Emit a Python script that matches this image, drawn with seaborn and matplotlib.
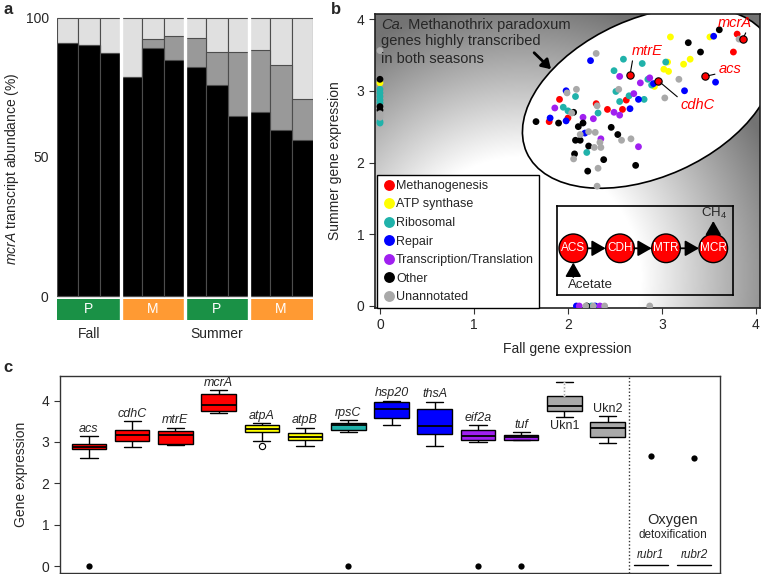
import numpy as np
import pandas as pd
import matplotlib
matplotlib.use("Agg")
import matplotlib.pyplot as plt
import matplotlib.patches as mpatches
from matplotlib.transforms import Affine2D
import seaborn as sns

# ---------------- Panel a data ----------------
bar_samples = ["F-P1", "F-P2", "F-P3", "F-M1", "F-M2", "F-M3",
               "S-P1", "S-P2", "S-P3", "S-M1", "S-M2", "S-M3"]
site_labels = ["P", "M", "P", "M"]
season_labels = ["Fall", "Summer"]
mcra_primary = [91.0, 90.0, 87.3, 78.7, 89.0, 84.8, 82.2, 75.6, 64.8, 66.0, 59.5, 56.2]
mcra_secondary = [0.0, 0.0, 0.0, 0.0, 3.4, 8.5, 10.5, 12.0, 22.8, 22.4, 23.3, 14.4]
mcra_total = [100, 100, 100, 100, 100, 100, 100, 100, 100, 100, 100, 100]

# ---------------- Panel b data ----------------
meth_fall = [3.80, 3.76, 1.91, 2.30, 2.42, 2.58, 2.62, 2.00, 1.80]
meth_summer = [3.79, 3.54, 2.88, 2.82, 2.74, 2.74, 2.87, 2.62, 2.57]
atp_fall = [3.51, 3.09, 3.30, 3.23, 3.06, 3.02, 3.07, 2.92, 0.0]
atp_summer = [3.75, 3.75, 3.44, 3.37, 3.40, 3.30, 3.27, 3.06, 3.11]
ribo_fall = [2.59, 2.79, 3.04, 2.49, 2.85, 2.89, 2.51, 2.08, 2.65, 2.81, 2.55, 1.95,
             2.00, 2.32, 2.20, 0.0, 0.0, 0.0, 0.0, 0.0, 0.0, 0.0, 2.25]
ribo_summer = [3.44, 3.38, 3.40, 3.28, 3.16, 3.08, 2.99, 2.92, 2.93, 2.88, 2.85, 2.77,
               2.72, 2.69, 2.14, 3.02, 2.97, 2.92, 2.87, 2.83, 2.57, 2.55, 0.0]
repair_fall = [3.55, 2.24, 3.57, 2.91, 3.24, 1.98, 2.75, 2.66, 1.98, 1.81, 2.18, 2.09, 2.29]
repair_summer = [3.76, 3.42, 3.12, 3.10, 3.00, 3.00, 2.88, 2.75, 2.58, 2.62, 2.41, 0.0, 0.0]
trans_fall = [2.55, 2.87, 2.77, 2.70, 1.86, 2.49, 2.55, 2.27, 2.16, 2.35, 2.75, 2.12, 2.34]
trans_summer = [3.20, 3.18, 3.11, 2.96, 2.76, 2.70, 2.66, 2.61, 2.63, 2.33, 2.22, 0.0, 0.0]
other_fall = [3.61, 3.28, 3.41, 2.06, 1.66, 1.90, 2.16, 2.11, 2.46, 2.53, 2.08, 2.13,
              2.22, 2.07, 2.38, 2.72, 2.21, 0.0, 0.0, 0.0, 2.20]
other_summer = [3.85, 3.67, 3.54, 2.70, 2.57, 2.55, 2.55, 2.50, 2.49, 2.39, 2.31, 2.31,
                2.23, 2.12, 2.04, 1.96, 1.88, 3.16, 2.78, 2.73, 0.0]
unann_fall = [3.82, 2.30, 3.18, 3.03, 2.54, 2.09, 1.99, 2.31, 2.04, 2.22, 2.29, 2.13,
              2.34, 2.67, 2.57, 2.28, 2.35, 2.06, 2.32, 2.31, 0.0, 0.0, 0.0,
              2.19, 2.27, 2.39, 2.87]
unann_summer = [3.72, 3.52, 3.16, 2.90, 3.02, 3.02, 2.97, 2.79, 2.69, 2.43, 2.42, 2.39,
                2.28, 2.33, 2.31, 2.21, 2.21, 2.05, 1.92, 1.67, 3.56, 2.68, 2.63,
                0.0, 0.0, 0.0, 0.0]
highlight_genes = ["mcrA", "acs", "mtrE", "cdhC"]
highlight_fall = [3.86, 3.46, 2.66, 2.96]
highlight_summer = [3.72, 3.20, 3.22, 3.14]

classes = ["Methanogenesis", "ATP synthase", "Ribosomal", "Repair",
           "Transcription/Translation", "Other", "Unannotated"]
class_colors = {"Methanogenesis": "#FF0000", "ATP synthase": "#FFFF00",
                "Ribosomal": "#20B2AA", "Repair": "#0000FF",
                "Transcription/Translation": "#A020F0", "Other": "#000000",
                "Unannotated": "#A9A9A9"}

# ellipse outline (data units)
outline_x = [2.837, 2.553, 2.340, 1.827, 1.631, 1.532, 1.524, 1.578, 1.809, 2.128,
             2.305, 2.695, 3.050, 3.404, 3.759, 3.968, 4.04]
outline_y = [4.070, 3.940, 3.777, 3.335, 2.871, 2.407, 2.268, 2.035, 1.802, 1.663,
             1.631, 1.686, 1.849, 2.035, 2.314, 2.638, 2.825]

# ---------------- Panel c data ----------------
box_genes = ["acs", "cdhC", "mtrE", "mcrA", "atpA", "atpB", "rpsC", "hsp20",
             "thsA", "eif2a", "tuf", "Ukn1", "Ukn2"]
extra_genes = ["rubr1", "rubr2"]
box_min = [2.62, 2.87, 2.93, 3.69, 3.02, 2.90, 3.24, 3.41, 2.90, 3.01, 3.04, 3.61, 2.98]
box_q1 = [2.82, 3.03, 2.96, 3.74, 3.25, 3.04, 3.28, 3.57, 3.20, 3.04, 3.06, 3.74, 3.12]
box_median = [2.88, 3.16, 3.18, 3.89, 3.32, 3.12, 3.40, 3.79, 3.39, 3.15, 3.12, 3.87, 3.33]
box_q3 = [2.95, 3.28, 3.26, 4.15, 3.42, 3.22, 3.45, 3.96, 3.79, 3.28, 3.16, 4.11, 3.49]
box_max = [3.14, 3.50, 3.34, 4.25, 3.45, 3.34, 3.52, 4.00, 3.97, 3.40, 3.24, 4.45, 3.62]
gene_colors = {"acs": "#FF0000", "cdhC": "#FF0000", "mtrE": "#FF0000", "mcrA": "#FF0000",
               "atpA": "#FFFF00", "atpB": "#FFFF00", "rpsC": "#20B2AA",
               "hsp20": "#0000FF", "thsA": "#0000FF", "eif2a": "#A020F0", "tuf": "#A020F0",
               "Ukn1": "#A9A9A9", "Ukn2": "#A9A9A9"}
point_genes = ["acs", "rpsC", "eif2a", "tuf", "rubr1", "rubr2"]
point_values = [0.0, 0.0, 0.0, 0.0, 2.66, 2.62]
outlier_genes = ["atpA"]
outlier_values = [2.90]

# ---------------- style ----------------
sns.set_theme(style="ticks")
plt.rcParams["font.family"] = ["Liberation Sans", "DejaVu Sans"]
plt.rcParams["mathtext.fontset"] = "custom"
plt.rcParams["mathtext.it"] = "Liberation Sans:italic"
plt.rcParams["mathtext.rm"] = "Liberation Sans"
plt.rcParams["mathtext.bf"] = "Liberation Sans:bold"

W, H = 761, 574
fig = plt.figure(figsize=(W / 100, H / 100), dpi=100)


def px_box(l, t, r, b):
    return [l / W, 1 - b / H, (r - l) / W, (b - t) / H]


axa = fig.add_axes(px_box(57, 16.7, 313, 320))
axb = fig.add_axes(px_box(375, 14, 760, 308))
axc = fig.add_axes(px_box(60, 375.7, 720, 572.7))

# ================= Panel a =================
df_a = pd.DataFrame({"sample": bar_samples, "primary": mcra_primary,
                     "secondary": mcra_secondary, "total": mcra_total})
df_a["upper"] = df_a["primary"] + df_a["secondary"]
for col, colr in [("total", "#E0E0E0"), ("upper", "#999999"), ("primary", "#000000")]:
    sns.barplot(data=df_a, x="sample", y=col, order=bar_samples, color=colr,
                saturation=1, width=1.0, edgecolor="#4d4d4d", linewidth=0.8,
                errorbar=None, ax=axa)
group_centers = [1, 4, 7, 10]
strip_colors = {"P": "#1a9146", "M": "#ff9a33"}
axa.bar(group_centers, -7.6, bottom=-1.0, width=3,
        color=[strip_colors[s] for s in site_labels], linewidth=0)
for xc, s in zip(group_centers, site_labels):
    axa.text(xc, -4.8, s, color="white", ha="center", va="center", fontsize=10)
for xb in [2.5, 5.5, 8.5]:
    axa.axvline(xb, color="white", lw=2.4, zorder=6)
axa.set_xlim(-0.5, 11.5)
axa.set_ylim(-8.6, 100.3)
axa.set_xticks([])
axa.set_xlabel("")
axa.set_yticks([0, 50, 100])
axa.tick_params(axis="y", length=0, pad=6, labelsize=10)
for s in axa.spines.values():
    s.set_visible(False)
axa.set_ylabel("$\\it{mcrA}$ transcript abundance (%)", fontsize=10)
axa.yaxis.set_label_coords(-0.14, 0.5)
axa.text(1, -0.045, season_labels[0], transform=axa.get_xaxis_transform(),
         ha="center", va="center", fontsize=10)
axa.text(7, -0.045, season_labels[1], transform=axa.get_xaxis_transform(),
         ha="center", va="center", fontsize=10)

# ================= Panel b =================
xlo, xhi, ylo, yhi = -0.053, 4.043, -0.028, 4.07
SX, SY = 94.0, 71.75
gx = np.linspace(xlo, xhi, 500)
gy = np.linspace(ylo, yhi, 400)
GX, GY = np.meshgrid(gx, gy)
R = np.hypot((GX - 1.5) * SX, (GY - 0.4) * SY)
grad = 1 - 0.55 * np.clip((R - 120) / 160, 0, 1)
axb.imshow(grad, extent=[xlo, xhi, ylo, yhi], origin="lower", cmap="gray",
           vmin=0, vmax=1, aspect="auto", zorder=0, interpolation="bilinear")

# ellipse fitted to the traced outline (algebraic start + geometric refinement)
ex = np.array(outline_x) * SX
ey = np.array(outline_y) * SY
Amat = np.column_stack([ex ** 2, ex * ey, ey ** 2, ex, ey])
coef, *_ = np.linalg.lstsq(Amat, np.ones_like(ex), rcond=None)
A, B, C, D, E = coef
M = np.array([[A, B / 2], [B / 2, C]])
cen = np.linalg.solve(2 * M, -np.array([D, E]))
q0 = cen @ M @ cen + D * cen[0] + E * cen[1] - 1
w, V = np.linalg.eigh(M)
semi = np.sqrt(np.abs(q0 / w))
i_major = int(np.argmax(semi))
th0 = np.arctan2(V[1, i_major], V[0, i_major])
p = np.array([cen[0], cen[1], semi[i_major], semi[1 - i_major], th0])


def ell_resid(q):
    cx, cy, a, b, th = q
    dx, dy = ex - cx, ey - cy
    u = dx * np.cos(th) + dy * np.sin(th)
    v = -dx * np.sin(th) + dy * np.cos(th)
    return (np.sqrt((u / a) ** 2 + (v / b) ** 2) - 1) * np.sqrt(abs(a * b))


lam = 1e-3
for _ in range(300):
    r = ell_resid(p)
    J = np.empty((len(r), 5))
    for k in range(5):
        dp = np.zeros(5)
        dp[k] = 1e-6 * max(1.0, abs(p[k]))
        J[:, k] = (ell_resid(p + dp) - r) / dp[k]
    Hm = J.T @ J
    g = J.T @ r
    try:
        step = np.linalg.solve(Hm + lam * np.diag(np.diag(Hm) + 1e-9), -g)
    except np.linalg.LinAlgError:
        break
    pn = p + step
    if np.all(np.isfinite(pn)) and np.sum(ell_resid(pn) ** 2) < np.sum(r ** 2):
        p = pn
        lam *= 0.5
    else:
        lam *= 4
cx, cy, ea, eb, eth = p
ell = mpatches.Ellipse((cx, cy), 2 * abs(ea), 2 * abs(eb), angle=np.degrees(eth),
                       transform=Affine2D().scale(1 / SX, 1 / SY) + axb.transData,
                       facecolor="white", edgecolor="black", lw=1.2, zorder=1)
axb.add_patch(ell)

frames = []
for cls, fx, sy in [("Methanogenesis", meth_fall, meth_summer),
                    ("ATP synthase", atp_fall, atp_summer),
                    ("Ribosomal", ribo_fall, ribo_summer),
                    ("Repair", repair_fall, repair_summer),
                    ("Transcription/Translation", trans_fall, trans_summer),
                    ("Other", other_fall, other_summer),
                    ("Unannotated", unann_fall, unann_summer)]:
    frames.append(pd.DataFrame({"fall": fx, "summer": sy, "cls": cls}))
df_b = pd.concat(frames, ignore_index=True)
sns.scatterplot(data=df_b, x="fall", y="summer", hue="cls", hue_order=classes,
                palette=class_colors, s=24, linewidth=0, ax=axb, zorder=3)
df_h = pd.DataFrame({"fall": highlight_fall, "summer": highlight_summer})
sns.scatterplot(data=df_h, x="fall", y="summer", color="#FF0000", s=28,
                edgecolor="black", linewidth=0.8, ax=axb, zorder=4, legend=False)

sns.move_legend(axb, "lower left", bbox_to_anchor=(0.006, 0.0), title=None,
                frameon=True, fancybox=False, fontsize=9, markerscale=1.6,
                handletextpad=0.1, labelspacing=0.52, borderpad=0.4,
                handlelength=1.0, borderaxespad=0.0, framealpha=1)
leg = axb.get_legend()
leg.get_frame().set_edgecolor("black")
leg.get_frame().set_linewidth(1.0)
leg.set_zorder(6)

# labels for highlighted genes
lab_pos = {"mcrA": (3.78, 3.95, (0.85, 0.0)), "acs": (3.72, 3.30, (0.0, 0.2)),
           "mtrE": (2.84, 3.56, (0.05, 0.0)), "cdhC": (3.38, 2.80, (0.0, 0.9))}
for g, fx, sy in zip(highlight_genes, highlight_fall, highlight_summer):
    tx, ty, rp = lab_pos[g]
    axb.annotate(g, xy=(fx, sy), xytext=(tx, ty), color="#FF0000", fontsize=10.5,
                 style="italic", ha="center", va="center", zorder=5,
                 arrowprops=dict(arrowstyle="-", color="black", lw=0.8,
                                 shrinkA=0, shrinkB=2.5, relpos=rp))

t_ca = axb.text(0.016, 0.985, "Ca.", style="italic", transform=axb.transAxes,
                ha="left", va="top", fontsize=10.5, zorder=5)
axb.annotate(" Methanothrix paradoxum", xy=(1, 0), xycoords=t_ca,
             ha="left", va="bottom", fontsize=10.5, zorder=5)
axb.annotate("genes highly transcribed\nin both seasons", xy=(0, 0), xycoords=t_ca,
             xytext=(0, -0.8), textcoords="offset points",
             ha="left", va="top", fontsize=10.5, linespacing=1.38, zorder=5)
axb.annotate("", xy=(1.82, 3.30), xytext=(1.64, 3.53),
             arrowprops=dict(arrowstyle="-|>,head_length=0.45,head_width=0.28",
                             color="black", lw=2.0, shrinkA=0, shrinkB=0), zorder=5)

axb.set_xlim(xlo, xhi)
axb.set_ylim(ylo, yhi)
axb.set_xticks([0, 1, 2, 3, 4])
axb.set_yticks([0, 1, 2, 3, 4])
axb.tick_params(labelsize=10, length=4, width=0.8, color="#333333")
for s in axb.spines.values():
    s.set_color("#222222")
    s.set_linewidth(1.2)
axb.set_xlabel("Fall gene expression", fontsize=10)
axb.set_ylabel("Summer gene expression", fontsize=10)
axb.xaxis.set_label_coords(0.5, -0.115)
axb.yaxis.set_label_coords(-0.086, 0.5)

# inset pathway
axi = fig.add_axes(px_box(556.7, 205.7, 733.3, 295))
axi.set_facecolor("none")
axi.set_xlim(0, 176.6)
axi.set_ylim(0, 89.3)
axi.set_xticks([])
axi.set_yticks([])
for s in axi.spines.values():
    s.set_color("black")
    s.set_linewidth(1.2)
enzymes = ["ACS", "CDH", "MTR", "MCR"]
ecx = [16.6, 63.3, 109.3, 156.6]
ecy = 46.7
rad = 14.3
for name, ccx in zip(enzymes, ecx):
    axi.add_patch(mpatches.Circle((ccx, ecy), rad, facecolor="#FF0000",
                                  edgecolor="black", lw=1.0, zorder=2))
    axi.text(ccx, ecy, name, color="white", ha="center", va="center", fontsize=8.5, zorder=3)
for a, b in zip(ecx[:-1], ecx[1:]):
    axi.annotate("", xy=(b - rad, ecy), xytext=(a + rad, ecy),
                 arrowprops=dict(arrowstyle="-|>,head_length=0.7,head_width=0.4",
                                 color="black", lw=1.3, shrinkA=0, shrinkB=0))
axi.annotate("", xy=(ecx[0], ecy - rad), xytext=(ecx[0], 18),
             arrowprops=dict(arrowstyle="-|>,head_length=0.7,head_width=0.4",
                             color="black", lw=1.3, shrinkA=0, shrinkB=0))
axi.annotate("", xy=(ecx[3], 74), xytext=(ecx[3], ecy + rad),
             arrowprops=dict(arrowstyle="-|>,head_length=0.7,head_width=0.4",
                             color="black", lw=1.3, shrinkA=0, shrinkB=0))
axi.text(34, 9.5, "Acetate", ha="center", va="center", fontsize=9.5)
axi.text(157, 81.5, "CH$_4$", ha="center", va="center", fontsize=9.5)

# ================= Panel c =================
all_genes = box_genes + extra_genes
df_c = pd.DataFrame({"gene": np.repeat(box_genes, 5),
                     "value": np.array([box_min, box_q1, box_median, box_q3, box_max]).T.ravel()})
sns.boxplot(data=df_c, x="gene", y="value", order=all_genes, hue="gene",
            hue_order=box_genes, palette=gene_colors, dodge=False, legend=False,
            width=0.8, whis=(0, 100), saturation=1, linecolor="black",
            linewidth=1.0, fliersize=0, ax=axc,
            medianprops=dict(linewidth=1.3))
# Ukn1 upper whisker is drawn dotted in light grey
iu = box_genes.index("Ukn1")
axc.plot([iu, iu], [box_q3[iu] + 0.02, box_max[iu] - 0.02], color="white", lw=2.0, zorder=3)
axc.plot([iu, iu], [box_q3[iu] + 0.02, box_max[iu] - 0.02], color="#A0A0A0", lw=1.0,
         ls=(0, (1, 1.5)), zorder=3.1)
sns.stripplot(x=point_genes, y=point_values, order=all_genes, jitter=False,
              color="black", size=4.5, ax=axc, zorder=4)
sns.stripplot(x=outlier_genes, y=outlier_values, order=all_genes, jitter=False,
              color="white", edgecolor="black", linewidth=0.8, size=4.5, ax=axc, zorder=4)

for i, g in enumerate(box_genes):
    if g == "Ukn1":
        axc.text(i, box_min[i] - 0.23, g, ha="center", va="center", fontsize=9)
    elif g == "Ukn2":
        axc.text(i, box_max[i] + 0.18, g, ha="center", va="center", fontsize=9)
    else:
        axc.text(i, box_max[i] + 0.18, g, ha="center", va="center", fontsize=9,
                 style="italic")
axc.axvline(12.5, color="#333333", ls=(0, (1, 1.5)), lw=1.0)
axc.text(13.5, 1.12, "Oxygen", ha="center", va="center", fontsize=10.5)
axc.text(13.5, 0.76, "detoxification", ha="center", va="center", fontsize=8.5)
for j, g in enumerate(extra_genes):
    pos = len(box_genes) + j
    axc.text(pos, 0.27, g, ha="center", va="center", fontsize=8.5, style="italic")
    axc.plot([pos - 0.4, pos + 0.4], [0.03, 0.03], color="black", lw=1.0)

axc.set_xlim(-0.67, 14.6)
axc.set_ylim(-0.155, 4.6)
axc.set_xticks([])
axc.set_xlabel("")
axc.set_yticks([0, 1, 2, 3, 4])
axc.tick_params(axis="y", labelsize=10, length=4, width=0.8, color="#333333")
for s in axc.spines.values():
    s.set_visible(True)
    s.set_color("#333333")
    s.set_linewidth(1.0)
axc.set_ylabel("Gene expression", fontsize=10)
axc.yaxis.set_label_coords(-0.048, 0.5)

# panel letters
fig.text(8 / W, 1 - 10 / H, "a", fontsize=12, fontweight="bold", ha="center", va="center")
fig.text(336 / W, 1 - 10 / H, "b", fontsize=12, fontweight="bold", ha="center", va="center")
fig.text(8 / W, 1 - 368 / H, "c", fontsize=12, fontweight="bold", ha="center", va="center")

fig.savefig("out.png", dpi=100)
